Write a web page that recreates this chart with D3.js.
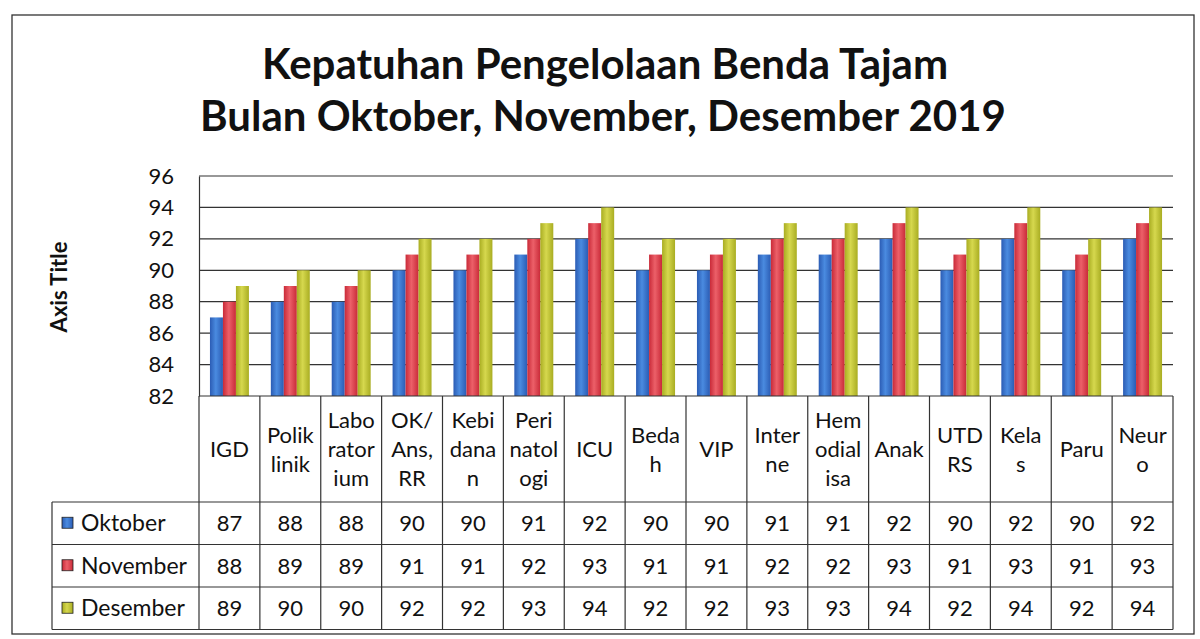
<!DOCTYPE html>
<html>
<head>
<meta charset="utf-8">
<script src="https://cdn.jsdelivr.net/npm/d3@7"></script>
<style>
  body { margin: 0; background: #fff; }
  svg { display: block; font-family: Lato, "Open Sans", sans-serif; }
</style>
</head>
<body>
<div id="chart"></div>
<script>
const W = 1200, H = 639;

// data
const categories = ["IGD","Poliklinik","Laboratorium","OK/Ans,RR","Kebidanan","Perinatologi","ICU","Bedah",
  "VIP","Interne","Hemodialisa","Anak","UTD RS","Kelas","Paru","Neuro"];
// how the labels wrap in the table header
const categoryLines = [["IGD"],["Polik","linik"],["Labo","rator","ium"],["OK/","Ans,","RR"],["Kebi","dana","n"],
  ["Peri","natol","ogi"],["ICU"],["Beda","h"],["VIP"],["Inter","ne"],["Hem","odial","isa"],["Anak"],
  ["UTD","RS"],["Kela","s"],["Paru"],["Neur","o"]];
const seriesNames = ["Oktober","November","Desember"];
const oktober  = [87,88,88,90,90,91,92,90,90,91,91,92,90,92,90,92];
const november = [88,89,89,91,91,92,93,91,91,92,92,93,91,93,91,93];
const desember = [89,90,90,92,92,93,94,92,92,93,93,94,92,94,92,94];
const yTicks = [82,84,86,88,90,92,94,96];

const seriesValues = [oktober, november, desember];
const COLORS = [
  {edge:"#2b5cb4", mid:"#4a8be0"},
  {edge:"#c92a38", mid:"#ec6069"},
  {edge:"#a9ad22", mid:"#d6d84e"}
];

const svg = d3.select("#chart").append("svg").attr("width", W).attr("height", H);

// outer frame
svg.append("rect").attr("x", 12).attr("y", 15).attr("width", 1182).attr("height", 619)
  .attr("fill", "#fff").attr("stroke", "#333").attr("stroke-width", 1.3);

// gradients
const defs = svg.append("defs");
COLORS.forEach((c, i) => {
  const gr = defs.append("linearGradient").attr("id", "g" + i).attr("x1", 0).attr("x2", 1).attr("y1", 0).attr("y2", 0);
  gr.append("stop").attr("offset", "0%").attr("stop-color", c.edge);
  gr.append("stop").attr("offset", "45%").attr("stop-color", c.mid);
  gr.append("stop").attr("offset", "100%").attr("stop-color", c.edge);
});

// title
const title = svg.append("text").attr("text-anchor", "middle").attr("font-weight", 700)
  .attr("font-size", 42).attr("fill", "#111");
title.append("tspan").attr("x", 605).attr("y", 79).text("Kepatuhan Pengelolaan Benda Tajam");
title.append("tspan").attr("x", 603).attr("y", 131).text("Bulan Oktober, November, Desember 2019");

// scales
const x = d3.scaleBand().domain(categories).range([199, 1173]).paddingInner(0.36).paddingOuter(0.18);
const xs = d3.scaleBand().domain(seriesNames).range([0, x.bandwidth()]);
const y = d3.scaleLinear().domain([82, 96]).range([396, 176]);

// gridlines
svg.append("g").selectAll("line").data(yTicks.slice(1)).join("line")
  .attr("x1", 199).attr("x2", 1173)
  .attr("y1", d => y(d)).attr("y2", d => y(d))
  .attr("stroke", "#333").attr("stroke-width", 1.2);

// y axis labels
const yAxis = svg.append("g").attr("transform", "translate(199,0)")
  .call(d3.axisLeft(y).tickValues(yTicks).tickSize(0).tickPadding(25).tickFormat(d3.format("d")));
yAxis.select(".domain").attr("stroke", "#333").attr("stroke-width", 1.2);
yAxis.selectAll("text").attr("font-size", 22).attr("font-family", "Lato, sans-serif").attr("fill", "#111");

svg.append("text").attr("transform", "translate(67,287) rotate(-90)")
  .attr("text-anchor", "middle").attr("font-weight", 700).attr("font-size", 22).attr("fill", "#111")
  .text("Axis Title");

// bars
const groups = svg.append("g").selectAll("g").data(categories).join("g")
  .attr("transform", d => `translate(${x(d)},0)`);
groups.selectAll("rect").data((c, i) => seriesNames.map((s, k) => ({s, k, v: seriesValues[k][i]}))).join("rect")
  .attr("x", d => xs(d.s))
  .attr("width", xs.bandwidth())
  .attr("y", d => y(d.v))
  .attr("height", d => y(82) - y(d.v))
  .attr("fill", d => `url(#g${d.k})`);

// data table
const step = x.step();
const colLeft = c => x(c) - (step - x.bandwidth()) / 2;
const tblTop = 396, headBot = 502, rowH = 42.5, tblBot = headBot + rowH * 3;
const legLeft = 52, plotLeft = 199, plotRight = 1173;
const tbl = svg.append("g").attr("stroke", "#333").attr("stroke-width", 1.2);

// vertical lines
tbl.selectAll("line.v").data(categories).join("line").attr("class", "v")
  .attr("x1", c => colLeft(c)).attr("x2", c => colLeft(c))
  .attr("y1", tblTop).attr("y2", tblBot);
tbl.append("line").attr("x1", plotRight).attr("x2", plotRight).attr("y1", tblTop).attr("y2", tblBot);
tbl.append("line").attr("x1", legLeft).attr("x2", legLeft).attr("y1", headBot).attr("y2", tblBot);
// horizontal lines
tbl.append("line").attr("x1", plotLeft).attr("x2", plotRight).attr("y1", tblTop).attr("y2", tblTop);
[0, 1, 2, 3].forEach(r => {
  tbl.append("line").attr("x1", legLeft).attr("x2", plotRight)
    .attr("y1", headBot + r * rowH).attr("y2", headBot + r * rowH);
});

// header labels
const headers = svg.append("g").selectAll("text").data(categories).join("text")
  .attr("text-anchor", "middle").attr("font-size", 22).attr("fill", "#111");
headers.each(function(c, i) {
  const lines = categoryLines[i];
  const lh = 29, cy = (tblTop + headBot) / 2 + 8;
  const t = d3.select(this);
  lines.forEach((ln, j) => {
    t.append("tspan").attr("x", x(c) + x.bandwidth() / 2)
      .attr("y", cy + (j - (lines.length - 1) / 2) * lh).text(ln);
  });
});

// value rows
seriesNames.forEach((s, k) => {
  const cy = headBot + rowH * k + rowH / 2 + 8;
  svg.append("rect").attr("x", 62).attr("y", cy - 14).attr("width", 11).attr("height", 11)
    .attr("fill", `url(#g${k})`).attr("stroke", "#222").attr("stroke-width", 0.8);
  svg.append("text").attr("x", 81).attr("y", cy).attr("font-size", 23).attr("fill", "#111").text(s);
  svg.append("g").selectAll("text").data(categories).join("text")
    .attr("x", c => x(c) + x.bandwidth() / 2).attr("y", cy)
    .attr("text-anchor", "middle").attr("font-size", 22).attr("fill", "#111")
    .text((c, i) => seriesValues[k][i]);
});
</script>
</body>
</html>
